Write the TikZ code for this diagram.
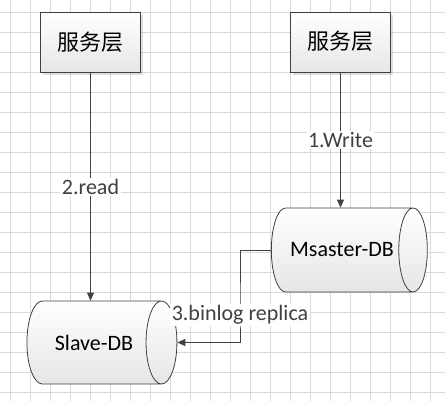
\documentclass[tikz,border=0pt]{standalone}
\usepackage{fontspec}
\setmainfont{Carlito}
\newfontfamily\cjk{Noto Sans CJK SC}
\usepackage{tikz}
\usetikzlibrary{shapes.geometric, arrows.meta, positioning, shadows, calc}
\definecolor{GridGray}{HTML}{D9D9D9}
\definecolor{LineGray}{HTML}{404040}
\definecolor{ShadeGray}{HTML}{E6E6E6}
\tikzset{
  % Box styles
  servicebox/.style={rectangle, draw=LineGray, line width=1pt, top color=white, bottom color=ShadeGray, minimum width=100pt, minimum height=60pt, font=\cjk\fontsize{22}{26}\selectfont, inner sep=0pt, drop shadow={shadow xshift=2.5pt, shadow yshift=-2.5pt, opacity=0.25}},
  dbnode/.style={cylinder, draw=LineGray, line width=0.8pt, top color=white, bottom color=ShadeGray, shape border rotate=0, aspect=2.0, inner sep=0pt, font=\fontsize{22}{26}\selectfont},
  % Arrow styles
  arrow/.style={-{Triangle[length=8pt, width=7pt]}, line width=0.9pt, LineGray},
  % Label styles
  lbl/.style={fill=white, inner sep=1.5pt, font=\fontsize{22}{26}\selectfont}
}
\begin{document}
\begin{tikzpicture}[x=1pt, y=-1pt]
  \useasboundingbox (0,0) rectangle (445,401);
  % Grid
  \foreach \gx in {10,30,...,430} \draw[GridGray, line width=0.8pt] (\gx,0) -- (\gx,401);
  \foreach \gy in {12.5,32.5,...,392.5} \draw[GridGray, line width=0.8pt] (0,\gy) -- (445,\gy);

  % Service layers
  \node[servicebox] (svcL) at (90.5,42.5) {服务层};
  \node[servicebox] (svcR) at (340.5,42.5) {\raisebox{5pt}{服务层}};

  % Databases
  \node[dbnode, minimum width=84pt, minimum height=156pt] (master) at (342,250) {Msaster-DB};
  \node[dbnode, minimum width=83pt, minimum height=150pt] (slave) at (94,342.5) {Slave-DB};

  % Arrows with labels
  \coordinate (turn) at (240,315);
  \draw[arrow] (svcR) -- node[lbl] {1.Write} (svcR |- master.north);
  \draw[arrow] (svcL) -- node[lbl] {2.read} (svcL |- slave.north);
  \draw[arrow] (master.west) -| (turn) node[lbl] {3.binlog replica} |- (slave.east);
\end{tikzpicture}
\end{document}
